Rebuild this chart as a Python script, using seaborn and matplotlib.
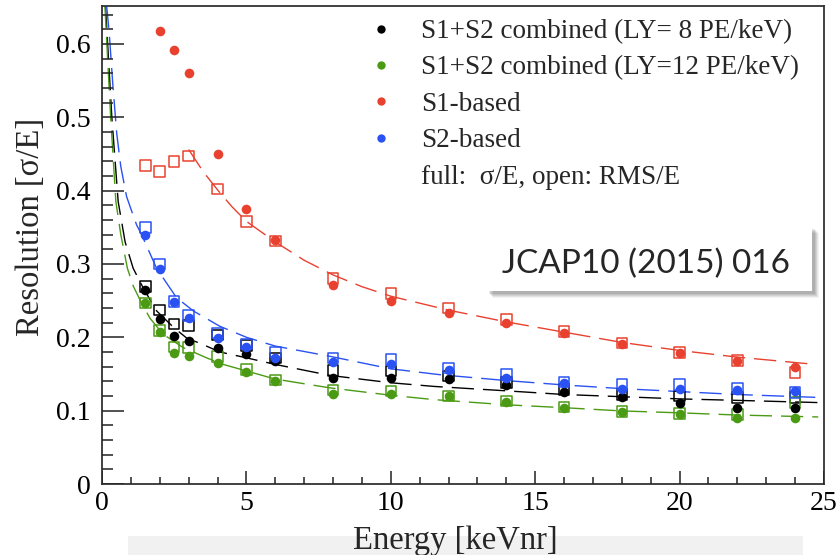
import numpy as np
import pandas as pd
import matplotlib
matplotlib.use("Agg")
import matplotlib.pyplot as plt
import seaborn as sns
from matplotlib.lines import Line2D
from matplotlib.patches import Rectangle
from matplotlib.ticker import MultipleLocator

# ---- measured resolution points (full = sigma/E, open = RMS/E) ----
energy = [1.5, 2, 2.5, 3, 4, 5, 6, 8, 10, 12, 14, 16, 18, 20, 22, 24]

ly8_sigma = [0.265, 0.225, 0.202, 0.195, 0.185, 0.177, 0.168, 0.145, 0.145, 0.143,
             0.135, 0.126, 0.118, 0.111, 0.103, 0.103]
ly8_rms = [0.269, 0.237, 0.218, 0.216, 0.203, 0.189, 0.172, 0.155, 0.154, 0.147,
           0.138, 0.129, 0.122, 0.120, 0.118, 0.118]
ly12_sigma = [0.247, 0.207, 0.179, 0.174, 0.165, 0.153, 0.140, 0.123, 0.123, 0.120,
              0.112, 0.104, 0.098, 0.095, 0.090, 0.0905]
ly12_rms = [0.247, 0.209, 0.187, 0.186, 0.174, 0.156, 0.142, 0.128, 0.127, 0.120,
            0.113, 0.105, 0.099, 0.096, 0.095, 0.111]
s1_sigma = [np.nan, 0.618, 0.592, 0.560, 0.450, 0.375, 0.332, 0.271, 0.249, 0.233,
            0.220, 0.206, 0.191, 0.179, 0.167, 0.159]
s1_rms = [0.434, 0.426, 0.440, 0.447, 0.402, 0.358, 0.331, 0.280, 0.260, 0.240,
          0.224, 0.208, 0.192, 0.179, 0.168, 0.152]
s2_sigma = [0.340, 0.293, 0.248, 0.226, 0.199, 0.187, 0.172, 0.166, 0.163, 0.155,
            0.144, 0.137, 0.130, 0.130, 0.128, 0.127]
s2_rms = [0.350, 0.300, 0.249, 0.230, 0.206, 0.191, 0.180, 0.172, 0.170, 0.158,
          0.149, 0.139, 0.136, 0.136, 0.131, 0.1245]

# ---- fitted resolution curves (dashed) ----
fit_ly8_e = [0.12, 0.34, 0.56, 0.8, 1.08, 1.43, 1.89, 2.49, 2.93, 3.5, 4.08, 5, 6,
             7.9, 10, 11.5, 14, 16, 18, 20, 22, 24.8]
fit_ly8_v = [0.652, 0.50, 0.385, 0.33, 0.294, 0.267, 0.236, 0.213, 0.199, 0.19,
             0.180, 0.172, 0.163, 0.148, 0.138, 0.133, 0.127, 0.122, 0.119, 0.116,
             0.114, 0.111]
fit_ly12_e = [0.1, 0.3, 0.48, 0.65, 0.88, 1.08, 1.34, 1.66, 2.12, 2.81, 3.62, 4.2,
              6, 7.9, 10, 11.5, 14, 16, 18, 20, 22, 24.8]
fit_ly12_v = [0.652, 0.50, 0.385, 0.34, 0.294, 0.27, 0.249, 0.226, 0.204, 0.186,
              0.172, 0.163, 0.143, 0.131, 0.121, 0.115, 0.108, 0.104, 0.0996, 0.097,
              0.094, 0.0914]
fit_s1_e = [3, 3.5, 4, 4.5, 5, 6, 7, 8, 9, 10, 12, 14, 16, 18, 20, 22, 24.7]
fit_s1_v = [0.456, 0.426, 0.401, 0.378, 0.358, 0.330, 0.305, 0.285, 0.269, 0.256,
            0.237, 0.221, 0.207, 0.193, 0.182, 0.173, 0.163]
fit_s2_e = [0.16, 0.25, 0.37, 0.51, 0.65, 0.85, 1.0, 1.2, 1.37, 1.89, 2.58, 3.16,
            4.08, 5, 6, 7.9, 10, 11.7, 14, 16, 18, 20, 22, 24.8]
fit_s2_v = [0.652, 0.615, 0.547, 0.478, 0.433, 0.392, 0.375, 0.353, 0.34, 0.294,
            0.254, 0.236, 0.215, 0.20, 0.188, 0.174, 0.157, 0.149, 0.141, 0.135,
            0.130, 0.126, 0.122, 0.118]

labels = ["S1+S2 combined (LY= 8 PE/keV)", "S1+S2 combined (LY=12 PE/keV)",
          "S1-based", "S2-based"]
note = "full:  σ/E, open: RMS/E"
colors = ["#000000", "#4b9a14", "#e8412f", "#2a52f2"]

series = [
    (ly8_sigma, ly8_rms, fit_ly8_e, fit_ly8_v),
    (ly12_sigma, ly12_rms, fit_ly12_e, fit_ly12_v),
    (s1_sigma, s1_rms, fit_s1_e, fit_s1_v),
    (s2_sigma, s2_rms, fit_s2_e, fit_s2_v),
]

x_range = (0, 25)
y_range = (0, 0.652)

sns.set_theme(style="white")
plt.rcParams.update({"font.family": ["Liberation Serif", "DejaVu Serif"]})

fig = plt.figure(figsize=(8.39, 5.55), dpi=100)
ax = fig.add_axes([102 / 839, 1 - 484 / 555, 722 / 839, (484 - 5.7) / 555])

dash = (0, (16, 6.5))

# fitted curves
for (sig, rms, fe, fv), col in zip(series, colors):
    sns.lineplot(x=fe, y=fv, ax=ax, color=col, linewidth=1.0,
                 linestyle=dash, sort=False, estimator=None, zorder=2)

# open squares (RMS/E)
for (sig, rms, fe, fv), col in zip(series, colors):
    sns.scatterplot(x=energy, y=rms, ax=ax, marker="s", s=58, linewidth=1.1,
                    color=col, zorder=3)
    coll = ax.collections[-1]
    coll.set_facecolor("none")
    coll.set_edgecolor(col)

# full circles (sigma/E)
for (sig, rms, fe, fv), col in zip(series, colors):
    sns.scatterplot(x=energy, y=sig, ax=ax, marker="o", s=48, linewidth=0,
                    color=col, zorder=4)

ax.set_xlim(*x_range)
ax.set_ylim(*y_range)
ax.xaxis.set_major_locator(MultipleLocator(5))
ax.xaxis.set_minor_locator(MultipleLocator(1))
ax.yaxis.set_major_locator(MultipleLocator(0.1))
ax.yaxis.set_minor_locator(MultipleLocator(0.02))
ax.xaxis.set_major_formatter(plt.FuncFormatter(lambda v, p: f"{v:g}"))
ax.yaxis.set_major_formatter(plt.FuncFormatter(lambda v, p: f"{v:g}"))

for sp in ax.spines.values():
    sp.set_visible(True)
    sp.set_color("#333333")
    sp.set_linewidth(1.3)

ax.set_xlabel("")
ax.set_ylabel("")
fig.text(31 / 839, 1 - 227 / 555, "Resolution [σ/E]", rotation=90,
         ha="center", va="center", fontsize=23.5)
fig.text(455 / 839, 1 - 549 / 555, "Energy [keVnr]", ha="center",
         va="baseline", fontsize=23.5)

# legend
handles = [Line2D([], [], marker="o", linestyle="none", color=c,
                  markersize=6, markeredgewidth=0) for c in colors]
handles.append(Line2D([], [], linestyle="none"))
leg = ax.legend(handles, labels + [note],
                loc="upper left", bbox_to_anchor=(367 / 839, 1 - 19 / 555),
                bbox_transform=fig.transFigure, frameon=False, fontsize=19.5,
                handlelength=1.0, handletextpad=1.0, labelspacing=0.42,
                borderpad=0, borderaxespad=0)

# inward tick marks, drawn as short segments along the bottom and left axes
x_span = x_range[1] - x_range[0]
y_span = y_range[1] - y_range[0]
tick_style = dict(color="#222222", linewidth=1.1, linestyle="-",
                  solid_capstyle="butt", zorder=6, scalex=False, scaley=False)
for locs, frac in [(ax.xaxis.get_majorticklocs(), 13 / 478.3),
                   (ax.xaxis.get_minorticklocs(), 7 / 478.3)]:
    for v in locs:
        ax.plot([v, v], [y_range[0], y_range[0] + frac * y_span], **tick_style)
for locs, frac in [(ax.yaxis.get_majorticklocs(), 22 / 722),
                   (ax.yaxis.get_minorticklocs(), 11 / 722)]:
    for v in locs:
        ax.plot([x_range[0], x_range[0] + frac * x_span], [v, v], **tick_style)
ax.set_xlim(*x_range)
ax.set_ylim(*y_range)

# axis tick labels (marks drawn above)
ax.tick_params(axis="both", which="both", direction="in", length=0,
               labelsize=20, labelcolor="black")
ax.tick_params(axis="y", which="major", pad=8)
ax.tick_params(axis="x", which="major", pad=5)

# reference box with soft shadow
bx0, by0, bw, bh = 486, 226, 326, 65
for i, a in enumerate([0.05, 0.06, 0.07, 0.08, 0.09]):
    off = 7 - i
    fig.add_artist(Rectangle(((bx0 + off) / 839, 1 - (by0 + bh + off) / 555),
                             bw / 839, bh / 555,
                             transform=fig.transFigure, facecolor="black",
                             edgecolor="none", alpha=a, zorder=5))
fig.add_artist(Rectangle((bx0 / 839, 1 - (by0 + bh) / 555), bw / 839, bh / 555,
                         transform=fig.transFigure, facecolor="white",
                         edgecolor="none", zorder=6))
fig.text(646 / 839, 1 - 273 / 555, "JCAP10 (2015) 016", ha="center",
         va="baseline", fontsize=24, family=["Lato", "DejaVu Sans"], zorder=7)

# slide footer band
fig.add_artist(Rectangle((128 / 839, 0), 675 / 839, 19 / 555,
                         transform=fig.transFigure, facecolor="#f1f1f1",
                         edgecolor="none", zorder=0))

fig.savefig("out.png", dpi=100)
